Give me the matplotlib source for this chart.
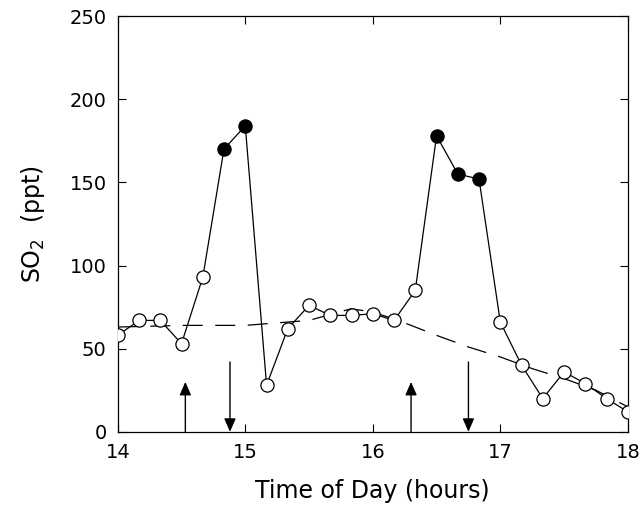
import matplotlib.pyplot as plt
import numpy as np

# SO2 samples every 10 minutes
time_h = [14.0, 14.167, 14.333, 14.5, 14.667, 14.833, 15.0, 15.167, 15.333, 15.5,
          15.667, 15.833, 16.0, 16.167, 16.333, 16.5, 16.667, 16.833, 17.0, 17.167,
          17.333, 17.5, 17.667, 17.833, 18.0]
so2 = [58, 67, 67, 53, 93, 170, 184, 28, 62, 76,
       70, 70, 71, 67, 85, 178, 155, 152, 66, 40,
       20, 36, 29, 20, 12]
filled = [False, False, False, False, False, True, True, False, False, False,
          False, False, False, False, False, True, True, True, False, False,
          False, False, False, False, False]

# dashed background curve
bg_time = [14.0, 14.5, 15.0, 15.5, 15.83, 16.0, 16.2, 16.5, 16.75, 17.0, 17.25, 17.5, 17.75, 18.0]
bg_so2 = [63, 64, 64, 67, 74, 72, 67, 58, 51, 45, 38, 32, 25, 15]

# arrows
up_arrows = [14.53, 16.3]
down_arrows = [14.88, 16.75]
up_top = 30
down_top = 42

fig = plt.figure(figsize=(6.4, 5.19), dpi=100)
ax = fig.add_axes([0.184, 0.168, 0.797, 0.801])

ax.plot(bg_time, bg_so2, color='black', lw=0.9, dashes=(16, 10))
ax.plot(time_h, so2, color='black', lw=0.9, zorder=2)
for t, v, f in zip(time_h, so2, filled):
    ax.plot(t, v, 'o', ms=9.5, mec='black', mew=0.9,
            mfc='black' if f else 'white', zorder=3)

for x in up_arrows:
    ax.annotate('', xy=(x, up_top), xytext=(x, 0),
                arrowprops=dict(arrowstyle='-|>,head_length=0.8,head_width=0.35',
                                color='black', lw=1.0, shrinkA=0, shrinkB=0))
for x in down_arrows:
    ax.annotate('', xy=(x, 0), xytext=(x, down_top),
                arrowprops=dict(arrowstyle='-|>,head_length=0.8,head_width=0.35',
                                color='black', lw=1.0, shrinkA=0, shrinkB=0))

ax.set_xlim(14, 18)
ax.set_ylim(0, 250)
ax.set_xticks([14, 15, 16, 17, 18])
ax.set_yticks([0, 50, 100, 150, 200, 250])
ax.tick_params(direction='in', top=True, right=True, length=6, width=0.8,
               labelsize=14, pad=8)
for s in ax.spines.values():
    s.set_linewidth(0.9)

ax.set_xlabel('Time of Day (hours)', fontsize=17, labelpad=12)
ax.set_ylabel('SO$_2$  (ppt)', fontsize=17, labelpad=16)

fig.savefig('out.png', dpi=100)
